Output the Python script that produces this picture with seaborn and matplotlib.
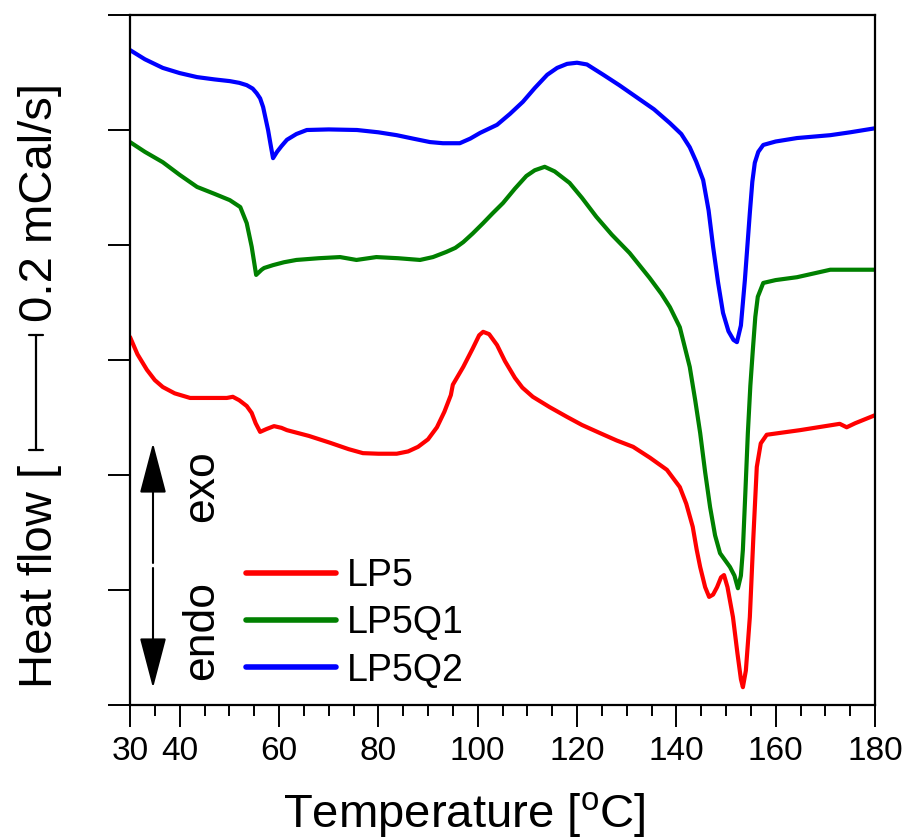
import numpy as np
import pandas as pd
import matplotlib
matplotlib.use("Agg")
import matplotlib.pyplot as plt
import matplotlib.transforms as mtransforms
from matplotlib import font_manager
from matplotlib.lines import Line2D
import seaborn as sns

# ---------------- data (heat flow, mCal/s, curves offset) ----------------
temp_lp5 = [30, 31.5, 33.4, 35, 36.6, 39, 42.1, 45, 49.5, 50.7, 52, 53.5, 54.5, 55.3,
            56.2, 57.5, 59, 60.5, 61.6, 66, 70.3, 74, 76.9, 80, 83.7, 86, 88, 90,
            91.8, 93.3, 94.6, 95.0, 97.1, 99, 100.3, 101.1, 102.3, 103.9, 105.5,
            107.5, 109, 111.1, 114.5, 118, 121, 124.6, 128, 131.3, 134.7, 138.1,
            140.7, 142, 143.3, 144.1, 144.8, 145.8, 146.6, 147.4, 148.2, 149, 149.6,
            150.3, 151.4, 152.3, 153, 153.4, 154, 154.8, 155.5, 156.2, 157, 158.2,
            164.9, 172.9, 174.3, 176, 180]
hf_lp5 = [0.640, 0.610, 0.583, 0.565, 0.553, 0.542, 0.534, 0.534, 0.534, 0.536,
          0.530, 0.520, 0.508, 0.490, 0.475, 0.480, 0.485, 0.482, 0.478, 0.468,
          0.456, 0.445, 0.438, 0.437, 0.437, 0.441, 0.449, 0.462, 0.483, 0.510,
          0.539, 0.557, 0.588, 0.620, 0.643, 0.649, 0.645, 0.626, 0.598, 0.569,
          0.552, 0.536, 0.518, 0.501, 0.487, 0.473, 0.460, 0.449, 0.430, 0.409,
          0.379, 0.350, 0.310, 0.270, 0.240, 0.205, 0.188, 0.192, 0.205, 0.222,
          0.226, 0.205, 0.153, 0.090, 0.045, 0.031, 0.060, 0.153, 0.290, 0.414,
          0.455, 0.470, 0.478, 0.489, 0.483, 0.490, 0.504]

temp_lp5q1 = [30, 33, 36.6, 40, 43.5, 47, 50.1, 52.2, 53.5, 54.5, 55.4, 56.5, 57,
              58.8, 61, 63.5, 68, 72.3, 75.6, 79.6, 84, 88.4, 91, 93.7, 95.5, 97.1,
              99, 101.1, 103, 105.1, 107.5, 109.8, 111.5, 113.5, 115.5, 118.5, 121,
              123.9, 127, 130.6, 134.6, 137, 138.7, 140.7, 142.7, 143.8, 144.8,
              145.8, 146.8, 147.8, 148.8, 150.8, 151.7, 152.4, 153, 153.4, 153.9,
              154.4, 154.9, 155.4, 155.9, 156.4, 157.5, 160, 164.3, 171, 180]
hf_lp5q1 = [0.979, 0.962, 0.944, 0.922, 0.901, 0.889, 0.878, 0.866, 0.838, 0.797,
            0.748, 0.757, 0.760, 0.765, 0.770, 0.774, 0.777, 0.779, 0.774, 0.779,
            0.777, 0.774, 0.779, 0.788, 0.795, 0.805, 0.820, 0.838, 0.855, 0.873,
            0.898, 0.920, 0.930, 0.936, 0.928, 0.908, 0.882, 0.849, 0.818, 0.786,
            0.743, 0.715, 0.692, 0.657, 0.588, 0.530, 0.473, 0.405, 0.344, 0.295,
            0.264, 0.240, 0.225, 0.203, 0.225, 0.270, 0.370, 0.473, 0.555, 0.617,
            0.675, 0.710, 0.734, 0.739, 0.744, 0.757, 0.757]

temp_lp5q2 = [30, 33, 36.6, 40, 43.5, 47, 50.1, 52, 53.5, 54.7, 55.5, 56.2, 56.8,
              57.3, 57.8, 58.3, 58.8, 59.6, 60.5, 61.6, 63.5, 65.6, 70, 75.7, 80,
              83.7, 87, 90.4, 93, 96.4, 98.5, 100.5, 103.9, 106.5, 109.1, 111.5,
              114, 116, 118, 120, 122, 125.3, 128.5, 132, 135.5, 138.7, 141, 142.7,
              144, 145.4, 146.5, 147.4, 148.4, 149.4, 150.5, 151.5, 152.2, 153,
              153.8, 154.8, 155.3, 155.8, 156.5, 157.5, 160, 164.3, 171, 175, 180]
hf_lp5q2 = [1.139, 1.123, 1.108, 1.099, 1.092, 1.088, 1.085, 1.082, 1.078, 1.072,
            1.064, 1.055, 1.040, 1.020, 1.000, 0.975, 0.951, 0.962, 0.972, 0.983,
            0.993, 1.000, 1.001, 1.000, 0.996, 0.991, 0.985, 0.979, 0.977, 0.977,
            0.985, 0.995, 1.009, 1.028, 1.049, 1.073, 1.096, 1.108, 1.115, 1.117,
            1.114, 1.096, 1.078, 1.057, 1.036, 1.012, 0.993, 0.970, 0.945, 0.913,
            0.860, 0.797, 0.735, 0.682, 0.650, 0.635, 0.631, 0.660, 0.739, 0.856,
            0.910, 0.943, 0.962, 0.974, 0.980, 0.986, 0.991, 0.996, 1.003]

samples = ["LP5", "LP5Q1", "LP5Q2"]
colors = ["#FF0000", "#008000", "#0000FF"]

x_major = [30, 40, 60, 80, 100, 120, 140, 160, 180]
x_minor = [35, 45, 50, 55, 65, 70, 75, 85, 90, 95, 105, 110, 115, 125, 130, 135,
           145, 150, 155, 165, 170, 175]
y_ticks = [0, 0.2, 0.4, 0.6, 0.8, 1.0, 1.2]

# ---------------- style ----------------
sns.set_style("ticks")


def has_font(name):
    try:
        font_manager.findfont(font_manager.FontProperties(family=name),
                              fallback_to_default=False)
        return True
    except Exception:
        return False


MAIN = "Liberation Sans" if has_font("Liberation Sans") else "DejaVu Sans"
plt.rcParams["font.family"] = [MAIN, "DejaVu Sans"]
plt.rcParams["mathtext.fontset"] = "custom"
plt.rcParams["mathtext.rm"] = MAIN
for k in ["text.color", "axes.labelcolor", "xtick.color", "ytick.color",
          "axes.edgecolor"]:
    plt.rcParams[k] = "black"

df = pd.concat([
    pd.DataFrame({"T": temp_lp5, "hf": hf_lp5, "sample": "LP5"}),
    pd.DataFrame({"T": temp_lp5q1, "hf": hf_lp5q1, "sample": "LP5Q1"}),
    pd.DataFrame({"T": temp_lp5q2, "hf": hf_lp5q2, "sample": "LP5Q2"}),
], ignore_index=True)

W, H = 905, 840
fig = plt.figure(figsize=(W / 100, H / 100), dpi=100)
ax = fig.add_axes([130 / W, 1 - 705 / H, 745 / W, 690 / H])

sns.lineplot(data=df, x="T", y="hf", hue="sample", hue_order=samples,
             palette=colors, sort=False, estimator=None, lw=3.0, ax=ax)

ax.set_xlim(30, 180)
ax.set_ylim(0, 1.2)
ax.set_xticks(x_major)
ax.set_xticks(x_minor, minor=True)
ax.set_xticklabels([str(v) for v in x_major], fontsize=24, color="black")
ax.set_yticks(y_ticks)
ax.set_yticklabels([])
ax.set_xlabel("")
ax.set_ylabel("")
for s in ax.spines.values():
    s.set_linewidth(1.6)
    s.set_color("black")
ax.tick_params(axis="both", which="major", direction="out", length=16, width=1.4,
               color="black", pad=6)
ax.tick_params(axis="x", which="minor", direction="out", length=8, width=1.4,
               color="black")
ax.tick_params(axis="y", which="minor", length=0)

# x label
fig.text(464 / W, 1 - 827 / H, r"Temperature [$^{\mathrm{o}}$C]",
         fontsize=34, ha="center", va="baseline", color="black")

# y label with scale bar
fig.text(52 / W, 1 - 688 / H, "Heat flow [", fontsize=34, rotation=90,
         rotation_mode="anchor", ha="left", va="baseline", color="black")
fig.text(52 / W, 1 - 322 / H, "0.2 mCal/s]", fontsize=34, rotation=90,
         rotation_mode="anchor", ha="left", va="baseline", color="black")
trans = mtransforms.blended_transform_factory(fig.transFigure, ax.transData)
bx = 36 / W
cw = 7 / W
y0, y1 = 0.4435, 0.6435
for seg in [([bx, bx], [y0, y1]), ([bx - cw, bx + cw], [y0, y0]),
            ([bx - cw, bx + cw], [y1, y1])]:
    fig.add_artist(Line2D(seg[0], seg[1], transform=trans, color="black", lw=1.6,
                          clip_on=False))

# exo / endo arrows
ap = dict(arrowstyle="-|>,head_length=1.6,head_width=0.42", mutation_scale=20,
          lw=1.5, color="black", shrinkA=0, shrinkB=0)
ax.annotate("", xy=(153, H - 443), xytext=(153, H - 563),
            xycoords="figure pixels", textcoords="figure pixels", arrowprops=ap)
ax.annotate("", xy=(153, H - 688), xytext=(153, H - 568),
            xycoords="figure pixels", textcoords="figure pixels", arrowprops=ap)
fig.text(202 / W, 1 - 486 / H, "exo", fontsize=32, rotation=90, ha="center",
         va="center", color="black")
fig.text(202 / W, 1 - 630 / H, "endo", fontsize=32, rotation=90, ha="center",
         va="center", color="black")

# legend
leg = ax.legend(loc="upper left", bbox_to_anchor=(246 / W, 1 - 558 / H),
                bbox_transform=fig.transFigure, frameon=False, fontsize=27,
                handlelength=2.4, handletextpad=0.3, labelspacing=0.3,
                borderpad=0, borderaxespad=0)
for line in leg.get_lines():
    line.set_linewidth(4)
for t in leg.get_texts():
    t.set_color("black")

fig.savefig("out.png", dpi=100)
